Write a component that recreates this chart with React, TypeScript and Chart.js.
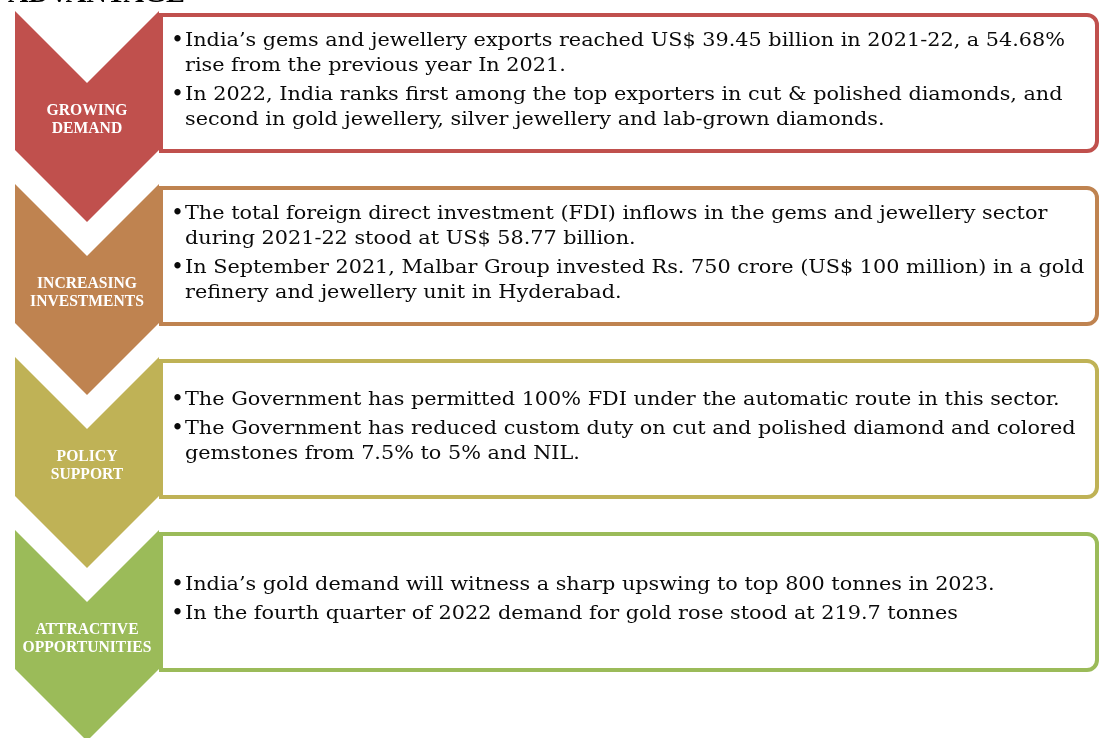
import React, { useEffect, useRef } from "react";
import { Chart, registerables } from "chart.js";

Chart.register(...registerables);

// ---- Data ----
const headerTitle = "ADVANTAGE";

const categories: string[][] = [
  ["GROWING", "DEMAND"],
  ["INCREASING", "INVESTMENTS"],
  ["POLICY", "SUPPORT"],
  ["ATTRACTIVE", "OPPORTUNITIES"],
];

const growingDemandPoints: string[][] = [
  [
    "India’s gems and jewellery exports reached US$ 39.45 billion in 2021-22, a 54.68%",
    "rise from the previous year In 2021.",
  ],
  [
    "In 2022, India ranks first among the top exporters in cut & polished diamonds, and",
    "second in gold jewellery, silver jewellery and lab-grown diamonds.",
  ],
];

const increasingInvestmentsPoints: string[][] = [
  [
    "The total foreign direct investment (FDI) inflows in the gems and jewellery sector",
    "during 2021-22 stood at US$ 58.77 billion.",
  ],
  [
    "In September 2021, Malbar Group invested Rs. 750 crore (US$ 100 million) in a gold",
    "refinery and jewellery unit in Hyderabad.",
  ],
];

const policySupportPoints: string[][] = [
  ["The Government has permitted 100% FDI under the automatic route in this sector."],
  [
    "The Government has reduced custom duty on cut and polished diamond and colored",
    "gemstones from 7.5% to 5% and NIL.",
  ],
];

const attractiveOpportunitiesPoints: string[][] = [
  ["India’s gold demand will witness a sharp upswing to top 800 tonnes in 2023."],
  ["In the fourth quarter of 2022 demand for gold rose stood at 219.7 tonnes"],
];

const sectionPoints = [
  growingDemandPoints,
  increasingInvestmentsPoints,
  policySupportPoints,
  attractiveOpportunitiesPoints,
];

// ---- Styles / layout ----
const COLORS = ["#C0504D", "#BF8350", "#BFB256", "#9BBB59"];
const W = 1099;
const H = 738;
const CHEV_L = 15;
const CHEV_R = 159;
const CHEV_TOP0 = 11;
const STEP = 173;
const NOTCH = 72;
const BODY = 139;
const BOX_L = 161;
const BOX_R = 1097;
const BOX_TOP_OFF = 4;
const BOX_BOT_OFF = 140;
const BOX_RADIUS = 10;
const BORDER_W = 4;
const BODY_FONT = '19px "DejaVu Serif Condensed", "DejaVu Serif"';
const BULLET_FONT = '22px "DejaVu Serif"';
const LABEL_FONT = 'bold 17px "Liberation Serif"';
const LINE_H = 25;
const PARA_GAP = 4;
const BULLET_X = 171;
const TEXT_X = 185;
const REF_TEXT_W = 880;
const REF_LABEL_W = 129;

function drawScaled(ctx: CanvasRenderingContext2D, s: string, x: number, y: number, sx: number) {
  ctx.save();
  ctx.scale(sx, 1);
  ctx.fillText(s, x / sx, y);
  ctx.restore();
}

const infographicPlugin = {
  id: "infographic",
  afterDraw(chart: any) {
    const ctx: CanvasRenderingContext2D = chart.ctx;
    const xs = chart.scales.x;
    const ys = chart.scales.y;
    const px = (v: number) => xs.getPixelForValue(v);
    const py = (v: number) => ys.getPixelForValue(v);

    ctx.save();
    ctx.fillStyle = "#ffffff";
    ctx.fillRect(0, 0, W, H);

    // header (cut off at top)
    ctx.fillStyle = "#000000";
    ctx.font = 'bold 28px "Liberation Serif"';
    ctx.textAlign = "left";
    ctx.textBaseline = "alphabetic";
    const hw = ctx.measureText(headerTitle).width;
    drawScaled(ctx, headerTitle, px(8), py(2), 177 / hw);

    // text scales
    ctx.font = BODY_FONT;
    const textSx = REF_TEXT_W / ctx.measureText(growingDemandPoints[0][0]).width;
    ctx.font = LABEL_FONT;
    const labelSx = REF_LABEL_W / ctx.measureText("OPPORTUNITIES").width;

    categories.forEach((cat, i) => {
      const top = CHEV_TOP0 + i * STEP;
      const color = COLORS[i];

      // box
      const bt = py(top + BOX_TOP_OFF);
      const bb = py(top + BOX_BOT_OFF);
      const bl = px(BOX_L);
      const br = px(BOX_R);
      ctx.beginPath();
      ctx.moveTo(bl, bt);
      ctx.lineTo(br - BOX_RADIUS, bt);
      ctx.arcTo(br, bt, br, bt + BOX_RADIUS, BOX_RADIUS);
      ctx.lineTo(br, bb - BOX_RADIUS);
      ctx.arcTo(br, bb, br - BOX_RADIUS, bb, BOX_RADIUS);
      ctx.lineTo(bl, bb);
      ctx.closePath();
      ctx.fillStyle = "#ffffff";
      ctx.fill();
      ctx.lineWidth = BORDER_W;
      ctx.strokeStyle = color;
      ctx.stroke();

      // chevron
      const cx = (CHEV_L + CHEV_R) / 2;
      ctx.beginPath();
      ctx.moveTo(px(CHEV_L), py(top));
      ctx.lineTo(px(cx), py(top + NOTCH));
      ctx.lineTo(px(CHEV_R), py(top));
      ctx.lineTo(px(CHEV_R), py(top + BODY));
      ctx.lineTo(px(cx), py(top + BODY + NOTCH));
      ctx.lineTo(px(CHEV_L), py(top + BODY));
      ctx.closePath();
      ctx.fillStyle = color;
      ctx.fill();

      // label
      ctx.font = LABEL_FONT;
      ctx.fillStyle = "#ffffff";
      ctx.textAlign = "center";
      const lc = top + 107;
      cat.forEach((ln, j) => {
        drawScaled(ctx, ln, px(cx), py(lc - 3 + j * 18), labelSx);
      });

      // bullets
      const pts = sectionPoints[i];
      const nLines = pts.reduce((a, p) => a + p.length, 0);
      const span = (nLines - 1) * LINE_H + (pts.length - 1) * PARA_GAP;
      const center = (top + BOX_TOP_OFF + top + BOX_BOT_OFF) / 2 + 2.5;
      let yb = center - span / 2;
      ctx.fillStyle = "#0a0a0a";
      ctx.textAlign = "left";
      pts.forEach((p) => {
        p.forEach((ln, k) => {
          if (k === 0) {
            ctx.font = BULLET_FONT;
            ctx.fillText("•", px(BULLET_X), py(yb + 1));
          }
          ctx.font = BODY_FONT;
          drawScaled(ctx, ln, px(TEXT_X), py(yb), textSx);
          yb += LINE_H;
        });
        yb += PARA_GAP;
      });
    });

    ctx.restore();
  },
};

export default function App() {
  const ref = useRef<HTMLCanvasElement | null>(null);
  useEffect(() => {
    document.body.style.margin = "0";
    const canvas = ref.current!;
    const chart = new Chart(canvas, {
      type: "scatter",
      data: { datasets: [{ data: [] }] },
      options: {
        animation: false,
        responsive: false,
        devicePixelRatio: 1,
        layout: { padding: 0 },
        plugins: { legend: { display: false }, tooltip: { enabled: false } },
        scales: {
          x: { type: "linear", min: 0, max: W, display: false },
          y: { type: "linear", min: 0, max: H, reverse: true, display: false },
        },
      },
      plugins: [infographicPlugin],
    });
    return () => chart.destroy();
  }, []);
  return <canvas ref={ref} width={W} height={H} style={{ display: "block", width: W, height: H }} />;
}
